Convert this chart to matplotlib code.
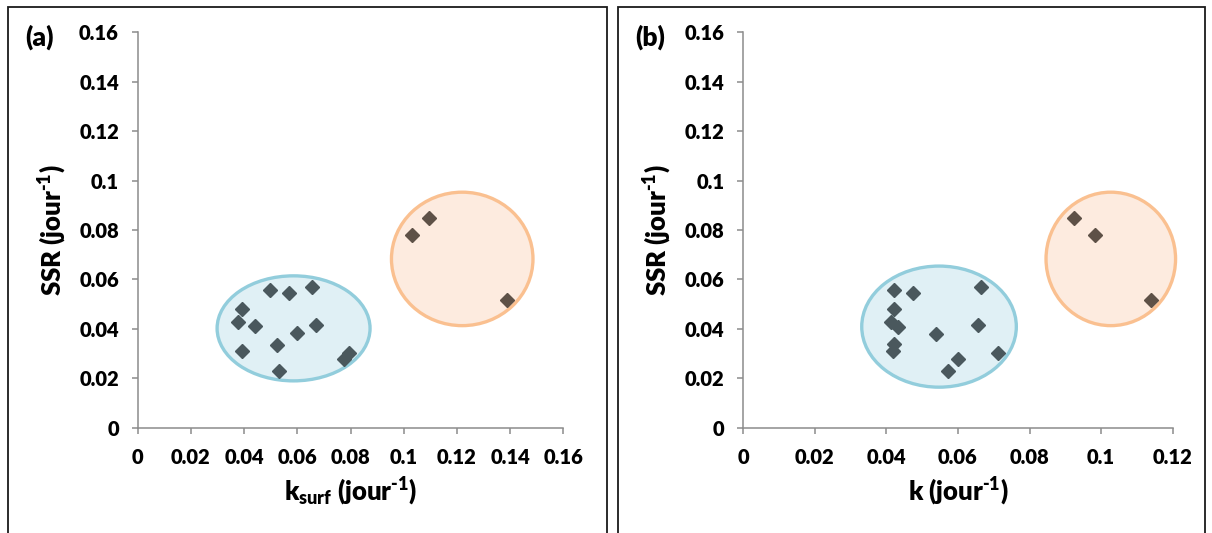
import matplotlib
matplotlib.use("Agg")
import matplotlib.pyplot as plt
from matplotlib.patches import Ellipse, Rectangle

WEIGHT = 'heavy'
plt.rcParams['font.family'] = ['Lato', 'DejaVu Sans']
plt.rcParams['font.weight'] = WEIGHT
plt.rcParams['mathtext.fontset'] = 'custom'
plt.rcParams['mathtext.rm'] = 'Lato:weight=heavy'
plt.rcParams['mathtext.it'] = 'Lato:weight=heavy'
plt.rcParams['mathtext.bf'] = 'Lato:weight=heavy'

# ---- data: panel (a) ----
a_blue_x = [0.0392, 0.0376, 0.0440, 0.0392, 0.0496, 0.0569, 0.0654, 0.0670, 0.0597, 0.0524, 0.0531, 0.0775, 0.0794]
a_blue_y = [0.0482, 0.0427, 0.0411, 0.0312, 0.0559, 0.0545, 0.0570, 0.0416, 0.0383, 0.0336, 0.0229, 0.0280, 0.0302]
a_orange_x = [0.1032, 0.1095, 0.1388]
a_orange_y = [0.0781, 0.0850, 0.0518]

# ---- data: panel (b) ----
b_blue_x = [0.0421, 0.0474, 0.0421, 0.0413, 0.0433, 0.0420, 0.0418, 0.0539, 0.0663, 0.0655, 0.0599, 0.0571, 0.0713]
b_blue_y = [0.0559, 0.0545, 0.0482, 0.0427, 0.0408, 0.0339, 0.0312, 0.0380, 0.0570, 0.0416, 0.0280, 0.0229, 0.0302]
b_orange_x = [0.0924, 0.0983, 0.1140]
b_orange_y = [0.0850, 0.0781, 0.0518]

# group ellipses (center x, center y, width, height)
a_blue_ell = (0.0586, 0.0402, 0.0575, 0.0425)
a_orange_ell = (0.1220, 0.0683, 0.0532, 0.0540)
b_blue_ell = (0.0547, 0.0409, 0.0432, 0.0490)
b_orange_ell = (0.1027, 0.0683, 0.0362, 0.0540)

y_ticks = [0, 0.02, 0.04, 0.06, 0.08, 0.1, 0.12, 0.14, 0.16]
y_ticklabels = ['0', '0.02', '0.04', '0.06', '0.08', '0.1', '0.12', '0.14', '0.16']
a_x_ticks = [0, 0.02, 0.04, 0.06, 0.08, 0.1, 0.12, 0.14, 0.16]
a_x_ticklabels = ['0', '0.02', '0.04', '0.06', '0.08', '0.1', '0.12', '0.14', '0.16']
b_x_ticks = [0, 0.02, 0.04, 0.06, 0.08, 0.1, 0.12]
b_x_ticklabels = ['0', '0.02', '0.04', '0.06', '0.08', '0.1', '0.12']

BLUE_EDGE = '#92cddc'
BLUE_FILL = '#e0f0f5'
ORANGE_EDGE = '#fac090'
ORANGE_FILL = '#fdebdf'
BLUE_MARK = '#4a585d'
ORANGE_MARK = '#5e5147'
AXIS_GRAY = '#8c8c8c'

W, H = 1212, 533
fig = plt.figure(figsize=(W / 100, H / 100), dpi=100)

# outer frames (pixel coords)
def px_rect(x0, x1, y_top):
    return Rectangle((x0 / W, -0.05), (x1 - x0) / W, 1 - y_top / H + 0.05,
                     transform=fig.transFigure, fill=False, edgecolor='#1a1a1a',
                     linewidth=1.3, clip_on=False)

fig.patches.append(px_rect(8, 607, 7))
fig.patches.append(px_rect(618, 1205, 7))

def setup(ax, xticks, xticklabels, xmax, xlabel):
    ax.set_xlim(0, xmax)
    ax.set_ylim(0, 0.16)
    ax.set_xticks(xticks)
    ax.set_xticklabels(xticklabels)
    ax.set_yticks(y_ticks)
    ax.set_yticklabels(y_ticklabels)
    for s in ['top', 'right']:
        ax.spines[s].set_visible(False)
    for s in ['left', 'bottom']:
        ax.spines[s].set_color(AXIS_GRAY)
        ax.spines[s].set_linewidth(1.1)
    ax.tick_params(axis='both', direction='out', length=4.5, width=1.1,
                   color=AXIS_GRAY, labelsize=14.5)
    ax.tick_params(axis='y', pad=9)
    ax.tick_params(axis='x', pad=10)
    for lbl in ax.get_xticklabels() + ax.get_yticklabels():
        lbl.set_fontweight(WEIGHT)
    ax.set_xlabel(xlabel, fontsize=18.5, fontweight=WEIGHT)
    ax.set_ylabel(r'SSR (jour$^{\text{-1}}$)', fontsize=18.5, fontweight=WEIGHT)
    ax.yaxis.set_label_coords(-0.162, 0.5)
    ax.xaxis.set_label_coords(0.5, -0.122)
    ax.set_facecolor('none')

def add_ell(ax, e, fc, ec):
    ax.add_patch(Ellipse((e[0], e[1]), e[2], e[3], facecolor=fc, edgecolor=ec,
                         linewidth=2.4, zorder=1, clip_on=False))

MS = 7.0

# panel (a)
axa = fig.add_axes([137.7 / W, 1 - 427.7 / H, (563.3 - 137.7) / W, (427.7 - 32.3) / H])
setup(axa, a_x_ticks, a_x_ticklabels, 0.16, r'k$_{\text{surf}}$ (jour$^{\text{-1}}$)')
add_ell(axa, a_blue_ell, BLUE_FILL, BLUE_EDGE)
add_ell(axa, a_orange_ell, ORANGE_FILL, ORANGE_EDGE)
axa.plot(a_blue_x, a_blue_y, linestyle='none', marker='D', markersize=MS,
         color=BLUE_MARK, zorder=3)
axa.plot(a_orange_x, a_orange_y, linestyle='none', marker='D', markersize=MS,
         color=ORANGE_MARK, zorder=3)

# panel (b)
axb = fig.add_axes([743.3 / W, 1 - 427.7 / H, (1172.7 - 743.3) / W, (427.7 - 32.3) / H])
setup(axb, b_x_ticks, b_x_ticklabels, 0.12, r'k (jour$^{\text{-1}}$)')
add_ell(axb, b_blue_ell, BLUE_FILL, BLUE_EDGE)
add_ell(axb, b_orange_ell, ORANGE_FILL, ORANGE_EDGE)
axb.plot(b_blue_x, b_blue_y, linestyle='none', marker='D', markersize=MS,
         color=BLUE_MARK, zorder=3)
axb.plot(b_orange_x, b_orange_y, linestyle='none', marker='D', markersize=MS,
         color=ORANGE_MARK, zorder=3)

# panel letters
fig.text(40 / W, 1 - 37 / H, '(a)', fontsize=19, fontweight=WEIGHT, ha='center', va='center')
fig.text(650 / W, 1 - 37 / H, '(b)', fontsize=19, fontweight=WEIGHT, ha='center', va='center')

fig.savefig('out.png', dpi=100)
